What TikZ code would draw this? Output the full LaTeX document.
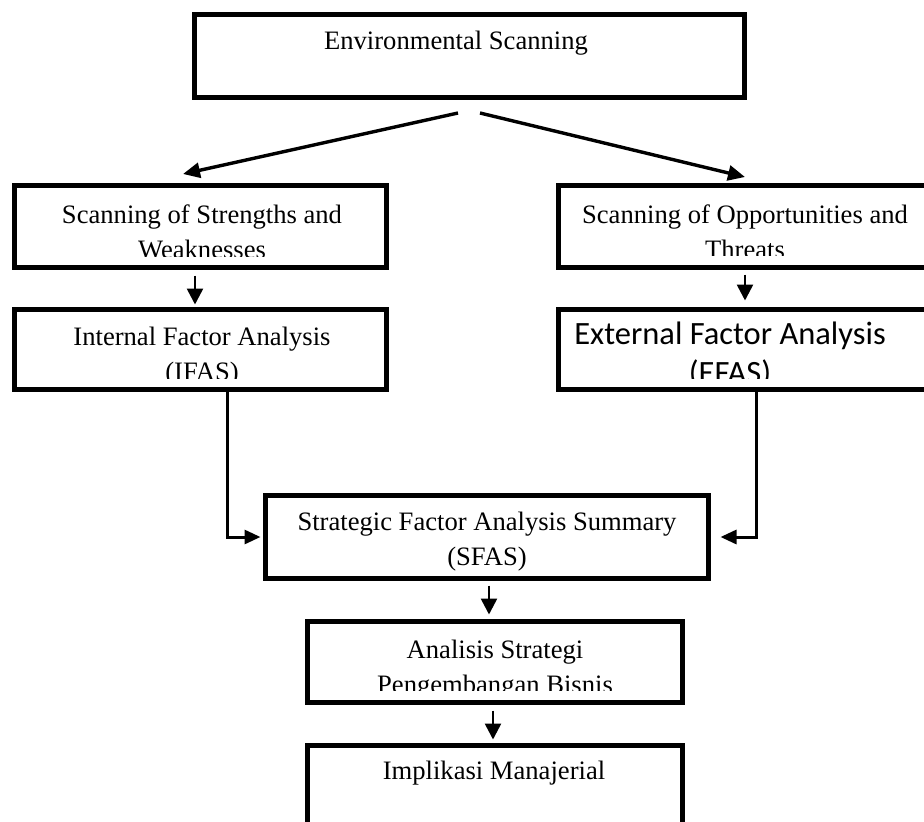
\documentclass[tikz,border=0pt]{standalone}
\usepackage{fontspec}
\setmainfont{Liberation Serif}
\newfontfamily\carlitofont{Carlito}
\usetikzlibrary{arrows.meta}
\begin{document}
\begin{tikzpicture}[x=1pt,y=-1pt,
  box/.style={draw, line width=5pt, rectangle, inner sep=0pt},
  lbl/.style={inner sep=0pt, align=center, font=\fontsize{26.6}{35}\selectfont},
  sanslbl/.style={inner sep=0pt, align=center, font=\carlitofont\fontsize{32.5}{39}\selectfont},
  diag/.style={line width=3.4pt, -{Triangle[length=17pt,width=15pt]}},
  down/.style={line width=2.6pt, -{Triangle[length=16pt,width=16pt]}},
  elbow/.style={line width=3pt, -{Triangle[length=16pt,width=14pt]}}]
\useasboundingbox (0,0) rectangle (924,822);
% boxes
\node[box, minimum width=550pt, minimum height=83pt] (es) at (469.5,56) {};
\node[box, minimum width=372pt, minimum height=82pt] (sw) at (200.5,226.5) {};
\node[box, minimum width=373pt, minimum height=82pt] (ot) at (745,226) {};
\node[box, minimum width=372pt, minimum height=80pt] (if) at (200.5,349.5) {};
\node[box, minimum width=373pt, minimum height=80pt] (ef) at (745,349.5) {};
\node[box, minimum width=443pt, minimum height=83pt] (sf) at (487,537) {};
\node[box, minimum width=375pt, minimum height=81pt] (as) at (495,662) {};
\node[box, minimum width=375pt, minimum height=120pt] (im) at (495,805.5) {};
% texts
\node[lbl] (est) at (456,43) {Environmental Scanning};
\begin{scope}
  \clip (14,185) rectangle (387,256);
  \node[lbl] (swt) at (202,232) {Scanning of Strengths and\\Weaknesses};
\end{scope}
\begin{scope}
  \clip (558,184) rectangle (930,255);
  \node[lbl] (ott) at (745,232) {Scanning of Opportunities and\\Threats};
\end{scope}
\begin{scope}
  \clip (14,309) rectangle (387,378);
  \node[lbl] (ift) at (202,357) {Internal Factor Analysis\\(IFAS)};
\end{scope}
\begin{scope}
  \clip (558,310) rectangle (930,378);
  \node[sanslbl] (eft) at (730,355) {External Factor Analysis\\(EFAS)};
\end{scope}
\node[lbl] (sft) at (487,541.5) {Strategic Factor Analysis Summary\\(SFAS)};
\begin{scope}
  \clip (307,621) rectangle (683,690);
  \node[lbl] (ast) at (495,669.5) {Analisis Strategi\\Pengembangan Bisnis};
\end{scope}
\node[lbl] (imt) at (494,773) {Implikasi Manajerial};
% connectors
\coordinate (esl) at (458,113);
\coordinate (esr) at (480,113);
\coordinate (swtop) at (183,174);
\coordinate (ottop) at (745,177);
\draw[diag] (esl) -- (swtop);
\draw[diag] (esr) -- (ottop);
\draw[down] ([xshift=-5.5pt,yshift=-5.5pt]sw.south) -- ([xshift=-5.5pt,yshift=2.5pt]if.north);
\draw[down] ([yshift=-5pt]ot.south) -- ([yshift=6.5pt]ef.north);
\draw[elbow] ([xshift=26.5pt]if.south) |- ([xshift=-2.5pt]sf.west);
\draw[elbow] ([xshift=11pt]ef.south) |- ([xshift=9.5pt]sf.east);
\draw[down] ([xshift=2pt,yshift=-4.5pt]sf.south) -- ([xshift=-6pt,yshift=4.5pt]as.north);
\draw[down] ([xshift=-2pt,yshift=-5.5pt]as.south) -- ([xshift=-2pt,yshift=3.5pt]im.north);
\end{tikzpicture}
\end{document}
